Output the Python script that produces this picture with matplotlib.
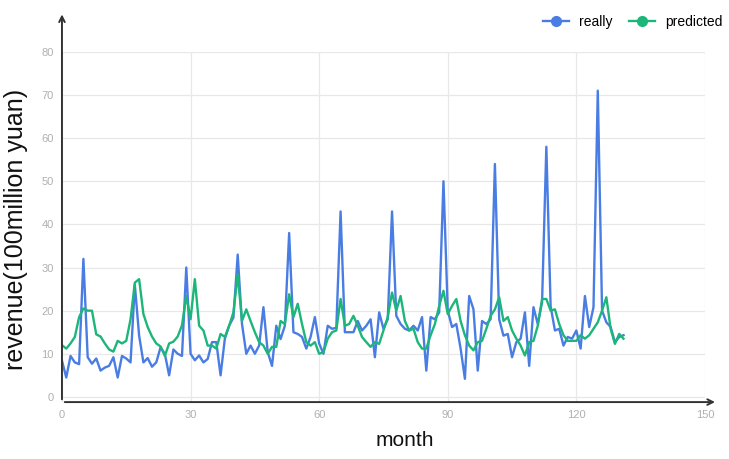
import matplotlib.pyplot as plt
import numpy as np

plt.rcParams["font.family"] = ["Liberation Sans", "DejaVu Sans"]

really = [
    8.4, 4.5, 9.5, 8, 7.6, 32, 9.2, 7.7, 8.9, 6.1,
    6.8, 7.2, 9.2, 4.5, 9.5, 8.9, 8, 26, 14.2, 8,
    9, 7, 8, 11.5, 10, 5, 11, 10, 9.5, 30,
    10, 8.5, 9.6, 8, 8.8, 12.7, 12.7, 5, 13.5, 16.5,
    18.4, 33, 16.9, 10, 11.9, 10, 11.9, 20.8, 10.4, 7.2,
    16.5, 13.4, 16.5, 38, 15, 14.6, 13.9, 11.2, 13.9, 18.5,
    12.4, 10, 16.5, 15.8, 16, 43, 15, 15, 15, 17.6,
    15.4, 16.5, 18, 9.2, 19.6, 15.8, 18, 43, 18.8, 16.9,
    15.8, 15.4, 16.5, 15.4, 18.5, 6.1, 18.5, 18, 19.6, 50,
    20, 16.2, 16.9, 11.2, 4.2, 23.4, 20.3, 6.1, 17.6, 16.9,
    18, 54, 18, 14.2, 14.6, 9.2, 12.7, 13.5, 19.6, 7.2,
    20.8, 16.9, 21.9, 58, 21, 15.4, 15.8, 11.9, 13.9, 13.5,
    15.4, 11.2, 23.4, 16.2, 20.8, 71, 20, 17.3, 16.2, 12.7,
    13.9, 14.3,
]

predicted = [
    12, 11.2, 12.4, 13.9, 18.5, 20.5, 20, 20, 14.5, 14,
    12.4, 11, 10.5, 13, 12.4, 13, 18, 26.5, 27.3, 19.2,
    16.2, 14, 12.4, 11.7, 9.5, 12.4, 12.8, 14, 16.6, 23.4,
    18, 27.3, 16.5, 15.4, 11.9, 11.9, 11.2, 14.6, 13.9, 16.5,
    19.6, 28.4, 17.6, 20.3, 17.6, 15, 12.7, 11.9, 10, 11.6,
    11.6, 17.6, 16.9, 23.8, 18.5, 21.6, 16.9, 12.7, 11.9, 12.7,
    10, 10.4, 13.5, 15, 15.4, 22.7, 16.5, 16.9, 18.8, 16.5,
    13.9, 12.7, 11.6, 12.7, 12.3, 15.4, 18.5, 24.2, 20, 23.4,
    17.6, 15.4, 15.8, 12.7, 11.2, 11.2, 14.3, 16.9, 21.1, 24.6,
    19.2, 21.1, 22.7, 17.6, 14.3, 11.9, 10.8, 12.7, 13, 15.8,
    18.8, 20.3, 23.1, 17.6, 18.5, 15.4, 13.5, 11.9, 9.6, 12.7,
    13, 16.5, 22.7, 22.7, 20, 20.3, 16.9, 14.3, 13, 13,
    13, 14.3, 13.5, 14.3, 15.8, 17.3, 20, 23.1, 15.8, 12.3,
    14.6, 13.5,
]

months = np.arange(len(really))
xticks = [0, 30, 60, 90, 120, 150]
yticks = [0, 10, 20, 30, 40, 50, 60, 70, 80]

blue = "#4a7de3"
green = "#1db67a"

fig = plt.figure(figsize=(7.29, 4.59), dpi=100)
ax = fig.add_axes([0.085, 0.124, 0.882, 0.763])

ax.plot(months, really, color=blue, lw=1.7, label="really")
ax.plot(months, predicted, color=green, lw=1.7, label="predicted")

ax.set_xlim(0, 150)
ax.set_ylim(-1.2, 80)
ax.set_xticks(xticks)
ax.set_yticks(yticks)
ax.grid(True, color="#e8e8e8", lw=0.9)
ax.set_axisbelow(True)
ax.tick_params(length=0, labelsize=8, colors="#b0b0b0", pad=6)

for s in ax.spines.values():
    s.set_visible(False)

# axis arrows
ax.annotate("", xy=(1.02, 0), xytext=(0, 0), xycoords="axes fraction",
            arrowprops=dict(arrowstyle="->", color="#333333", lw=1.4))
ax.annotate("", xy=(0, 1.115), xytext=(0, 0), xycoords="axes fraction",
            arrowprops=dict(arrowstyle="->", color="#333333", lw=1.4),
            annotation_clip=False)

fig.text(0.022, 0.5, "revenue(100million yuan)", rotation=90, fontsize=18,
         ha="center", va="center", color="#111111")
fig.text(0.555, 0.02, "month", fontsize=15, ha="center", va="bottom",
         color="#111111")

h1, = ax.plot([], [], color=blue, lw=1.7, marker="o", ms=7)
h2, = ax.plot([], [], color=green, lw=1.7, marker="o", ms=7)
fig.legend([h1, h2], ["really", "predicted"], loc="upper right",
           bbox_to_anchor=(1.008, 0.995), ncol=2, frameon=False, fontsize=10,
           handlelength=1.9, columnspacing=1.2, handletextpad=0.7)

plt.savefig("out.png", dpi=100)
